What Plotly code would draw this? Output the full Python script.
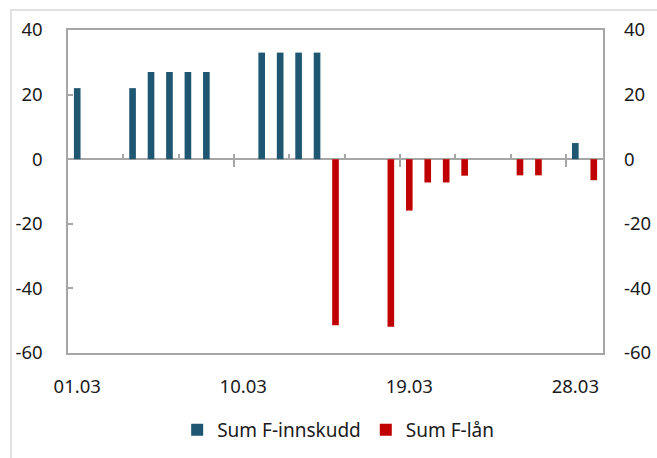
import plotly.graph_objects as go

# ---- data ----
dates = [f"{d:02d}.03" for d in range(1, 30)]
innskudd = [22, None, None, 22, 27, 27, 27, 27, None, None, 33, 33, 33, 33, None,
            None, None, None, None, None, None, None, None, None, None, None, None, 5, None]
laan = [None, None, None, None, None, None, None, None, None, None, None, None, None, None, -51.4,
        None, None, -51.9, -15.9, -7.2, -7.2, -5.1, None, None, -5, -5, None, None, -6.5]
tick_labels = ["01.03", "10.03", "19.03", "28.03"]
y_ticks = [-60, -40, -20, 0, 20, 40]
y_tick_text = [str(v) for v in y_ticks]

BLUE = "#1f5672"
RED = "#c00000"
GREY = "#a6a6a6"
FONT = "Noto Sans"
FS = 18.5

fig = go.Figure()
fig.add_trace(go.Bar(x=dates, y=innskudd, name="Sum F-innskudd", marker_color=BLUE,
                     width=0.36, marker_line_width=0))
fig.add_trace(go.Bar(x=dates, y=laan, name="Sum F-lån", marker_color=RED,
                     width=0.36, marker_line_width=0))

n = len(dates)
rng = [-0.5, n - 0.5]
major = [i - 0.5 for i in range(9, n, 9)]
minor = [i - 0.5 for i in range(3, n, 3)]

fig.update_layout(
    width=657, height=458,
    margin=dict(l=68, r=54, t=30, b=105, autoexpand=False),
    paper_bgcolor="white", plot_bgcolor="white",
    barmode="relative",
    font=dict(family=FONT, size=FS, color="#1a1a1a"),
    showlegend=True,
    legend=dict(orientation="h", x=0.505, xanchor="center", y=-0.238, yanchor="middle",
                font=dict(size=19), itemwidth=30, traceorder="normal"),
    xaxis=dict(type="category", range=rng, tickmode="array", tickvals=tick_labels,
               ticktext=tick_labels, showline=True, mirror=True, linecolor=GREY, linewidth=1.5,
               ticks="", ticklabelstandoff=16, showgrid=False, zeroline=False,
               automargin=False),
    xaxis2=dict(overlaying="x", anchor="free", position=0.6, range=rng, type="linear",
                tickmode="array", tickvals=major, ticks="outside", ticklen=7, tickwidth=1.5,
                tickcolor=GREY, showticklabels=False, showgrid=False, zeroline=False,
                showline=False, automargin=False,
                minor=dict(tickmode="array", tickvals=minor, ticks="inside", ticklen=5,
                           tickwidth=1.5, tickcolor=GREY, showgrid=False)),
    yaxis=dict(range=[-60, 40], tickmode="array", tickvals=y_ticks, ticktext=y_tick_text,
               ticks="inside", ticklen=5, tickcolor=GREY, tickwidth=1.5, showline=True,
               mirror=True, linecolor=GREY, linewidth=1.5, showgrid=False, zeroline=True,
               zerolinecolor=GREY, zerolinewidth=1.5, ticklabelstandoff=20, automargin=False),
    yaxis2=dict(overlaying="y", side="right", range=[-60, 40], tickmode="array",
                tickvals=y_ticks, ticktext=y_tick_text, ticks="", showgrid=False,
                zeroline=False, showline=False, ticklabelstandoff=20, automargin=False),
)
# invisible helper trace so the overlay axes get drawn
fig.add_trace(go.Scatter(x=[None], y=[None], xaxis="x2", yaxis="y2", showlegend=False,
                         hoverinfo="skip"))

fig.add_shape(type="rect", xref="paper", yref="paper", x0=-0.1065, x1=1.12, y0=-0.34, y1=1.062,
              line=dict(color="#d9d9d9", width=1.5), layer="below")

fig.write_html(
    "out.html",
    config={"displayModeBar": False},
    post_script="document.body.style.margin='0';document.body.style.overflow='hidden';",
)
